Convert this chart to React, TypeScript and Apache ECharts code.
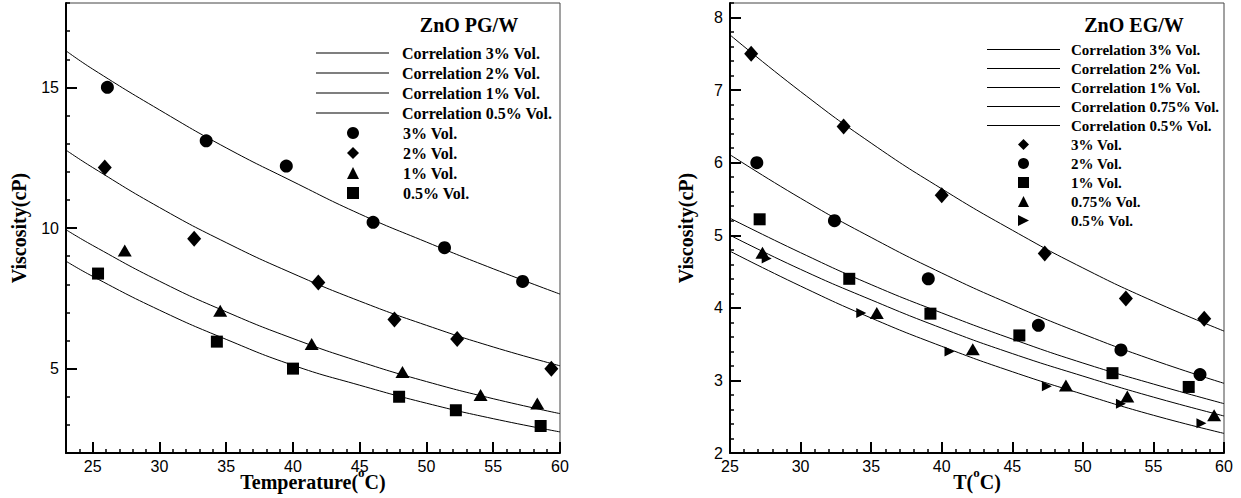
import React, { useEffect, useRef } from 'react';
import * as echarts from 'echarts';

// ---------- Left chart: ZnO PG/W ----------
const pgCurveT = [23, 25, 30, 35, 40, 45, 50, 55, 60];
const pgCorr3 = [16.3, 15.65, 14.2, 12.85, 11.65, 10.5, 9.5, 8.55, 7.65];
const pgCorr2 = [12.77, 12.15, 10.73, 9.48, 8.38, 7.4, 6.54, 5.77, 5.1];
const pgCorr1 = [9.94, 9.38, 8.11, 7.02, 6.07, 5.25, 4.54, 3.93, 3.4];
const pgCorr05 = [8.82, 8.28, 7.08, 6.04, 5.12, 4.41, 3.77, 3.22, 2.75];

const pg3T = [26.1, 33.5, 39.5, 46.0, 51.35, 57.2];
const pg3V = [15.0, 13.1, 12.2, 10.2, 9.3, 8.1];
const pg2T = [25.9, 32.6, 41.9, 47.6, 52.3, 59.35];
const pg2V = [12.15, 9.62, 8.06, 6.75, 6.05, 5.0];
const pg1T = [27.4, 34.55, 41.4, 48.2, 54.05, 58.3];
const pg1V = [9.2, 7.06, 5.88, 4.88, 4.06, 3.76];
const pg05T = [25.4, 34.3, 40.0, 47.95, 52.2, 58.55];
const pg05V = [8.38, 5.96, 5.0, 4.0, 3.52, 2.96];

// ---------- Right chart: ZnO EG/W ----------
const egCurveT = [25, 30, 35, 40, 45, 50, 55, 60];
const egCorr3 = [7.76, 6.98, 6.27, 5.64, 5.07, 4.55, 4.09, 3.68];
const egCorr2 = [6.11, 5.51, 4.97, 4.48, 4.04, 3.64, 3.28, 2.96];
const egCorr1 = [5.235, 4.76, 4.32, 3.93, 3.57, 3.24, 2.95, 2.68];
const egCorr075 = [5.0, 4.53, 4.11, 3.72, 3.37, 3.06, 2.77, 2.51];
const egCorr05 = [4.78, 4.3, 3.86, 3.47, 3.12, 2.81, 2.52, 2.27];

const eg3T = [26.5, 33.05, 40.0, 47.3, 53.05, 58.6];
const eg3V = [7.5, 6.5, 5.55, 4.75, 4.13, 3.85];
const eg2T = [26.9, 32.4, 39.05, 46.85, 52.7, 58.3];
const eg2V = [6.0, 5.2, 4.4, 3.76, 3.42, 3.08];
const eg1T = [27.1, 33.45, 39.2, 45.5, 52.1, 57.5];
const eg1V = [5.22, 4.4, 3.92, 3.62, 3.1, 2.91];
const eg075T = [27.3, 35.4, 42.2, 48.8, 53.15, 59.3];
const eg075V = [4.76, 3.93, 3.43, 2.93, 2.78, 2.52];
const eg05T = [27.6, 34.3, 40.55, 47.45, 52.7, 58.4];
const eg05V = [4.68, 3.93, 3.4, 2.92, 2.68, 2.41];

// ---------- Ticks ----------
const xTickLabels = [25, 30, 35, 40, 45, 50, 55, 60];
const pgYTickLabels = [5, 10, 15];
const egYTickLabels = [2, 3, 4, 5, 6, 7, 8];

const SERIF = 'Liberation Serif';
const SANS = 'Liberation Sans';
const BLACK = '#000';

const pairs = (xs: number[], ys: number[]) => xs.map((x, i) => [x, ys[i]]);

const nameRich = {
  t: { fontFamily: SERIF, fontWeight: 'bold', fontSize: 20, lineHeight: 32, color: BLACK },
  s: { fontFamily: SERIF, fontWeight: 'bold', fontSize: 13, lineHeight: 13, verticalAlign: 'top', color: BLACK },
};

function primaryX(gridIndex: number, min: number, max: number, name: string) {
  return {
    type: 'value', gridIndex, min, max, interval: 1, position: 'bottom',
    axisLine: { show: true, onZero: false, lineStyle: { color: BLACK, width: 2 } },
    axisTick: { show: true, inside: true, length: 11, customValues: xTickLabels, lineStyle: { color: BLACK, width: 2 } },
    axisLabel: { show: true, customValues: xTickLabels, margin: 6, color: BLACK, fontFamily: SANS, fontSize: 16, lineHeight: 14 },
    splitLine: { show: false },
    name, nameLocation: 'middle', nameGap: 13, nameMoveOverlap: false,
    nameTextStyle: { rich: nameRich },
  };
}

function minorX(gridIndex: number, min: number, max: number) {
  return {
    type: 'value', gridIndex, min, max, interval: 1, position: 'bottom',
    axisLine: { show: false, onZero: false },
    axisTick: { show: true, inside: true, length: 4, lineStyle: { color: BLACK, width: 1.5 } },
    axisLabel: { show: false },
    splitLine: { show: false },
  };
}

function primaryY(gridIndex: number, min: number, max: number, ticks: number[], nameGap: number) {
  return {
    type: 'value', gridIndex, min, max, interval: 1, position: 'left',
    axisLine: { show: true, onZero: false, lineStyle: { color: BLACK, width: 2 } },
    axisTick: { show: true, inside: true, length: 11, customValues: ticks, lineStyle: { color: BLACK, width: 2 } },
    axisLabel: { show: true, customValues: ticks, margin: 7, color: BLACK, fontFamily: SANS, fontSize: 16 },
    splitLine: { show: false },
    name: 'Viscosity(cP)', nameLocation: 'middle', nameGap, nameMoveOverlap: false,
    nameTextStyle: { fontFamily: SERIF, fontWeight: 'bold', fontSize: 20, color: BLACK },
  };
}

function minorY(gridIndex: number, min: number, max: number, interval: number) {
  return {
    type: 'value', gridIndex, min, max, interval, position: 'left',
    axisLine: { show: false, onZero: false },
    axisTick: { show: true, inside: true, length: 4, lineStyle: { color: BLACK, width: 1.5 } },
    axisLabel: { show: false },
    splitLine: { show: false },
  };
}

function corr(name: string, xs: number[], ys: number[], idx: number) {
  return {
    type: 'line', name, xAxisIndex: idx, yAxisIndex: idx,
    data: pairs(xs, ys), smooth: true, symbol: 'none', showSymbol: false,
    lineStyle: { color: BLACK, width: 1 }, itemStyle: { color: BLACK },
    z: 2, silent: true,
  };
}

function pts(name: string, xs: number[], ys: number[], idx: number, symbol: string, size: any) {
  return {
    type: 'scatter', name, xAxisIndex: idx, yAxisIndex: idx,
    data: pairs(xs, ys), symbol, symbolSize: size,
    itemStyle: { color: BLACK, opacity: 1 }, z: 3, silent: true,
  };
}

const RIGHT_TRI = 'path://M0,0L10,5L0,10Z';

function legendText(fontSize: number, padLeft: number) {
  return { fontFamily: SERIF, fontWeight: 'bold', fontSize, lineHeight: fontSize, color: BLACK, padding: [0, 0, 0, padLeft] };
}

export default function App() {
  const ref = useRef<HTMLDivElement>(null);
  useEffect(() => {
    if (!ref.current) return;
    const chart = echarts.init(ref.current, undefined, { renderer: 'svg' });
    const sp = ' '; // distinguishes right-chart series names
    const pgLines = ['Correlation 3% Vol.', 'Correlation 2% Vol.', 'Correlation 1% Vol.', 'Correlation 0.5% Vol.'];
    const pgPts = ['3% Vol.', '2% Vol.', '1% Vol.', '0.5% Vol.'];
    const egLines = ['Correlation 3% Vol.', 'Correlation 2% Vol.', 'Correlation 1% Vol.', 'Correlation 0.75% Vol.', 'Correlation 0.5% Vol.'].map((n) => n + sp);
    const egPts = ['3% Vol.', '2% Vol.', '1% Vol.', '0.75% Vol.', '0.5% Vol.'].map((n) => n + sp);

    const option: any = {
      animation: false,
      backgroundColor: '#fff',
      grid: [
        { left: 66, top: 3, width: 494, height: 450, show: true, borderColor: '#444', borderWidth: 1, backgroundColor: 'transparent', containLabel: false, outerBoundsMode: 'none' },
        { left: 730, top: 3, width: 494, height: 450, show: true, borderColor: '#444', borderWidth: 1, backgroundColor: 'transparent', containLabel: false, outerBoundsMode: 'none' },
      ],
      xAxis: [
        primaryX(0, 23, 60, '{t|Temperature(}{s|o}{t|C)}'),
        primaryX(1, 25, 60, '{t|T(}{s|o}{t|C)}'),
        minorX(0, 23, 60),
        minorX(1, 25, 60),
      ],
      yAxis: [
        primaryY(0, 2, 18, pgYTickLabels, 37),
        primaryY(1, 2, 8.2, egYTickLabels, 34),
        minorY(0, 2, 18, 1),
        minorY(1, 2, 8.2, 0.2),
      ],
      legend: [
        {
          orient: 'vertical', left: 316, top: 45, padding: 0, icon: 'rect',
          itemWidth: 73, itemHeight: 1, itemGap: 4, selectedMode: false,
          textStyle: legendText(16, 8), data: pgLines,
        },
        {
          orient: 'vertical', left: 347, top: 125, padding: 0,
          itemWidth: 12, itemHeight: 12, itemGap: 4, selectedMode: false,
          textStyle: legendText(16, 39), data: pgPts,
        },
        {
          orient: 'vertical', left: 987, top: 42, padding: 0, icon: 'rect',
          itemWidth: 73, itemHeight: 1, itemGap: 4, selectedMode: false,
          textStyle: legendText(15, 6), data: egLines,
        },
        {
          orient: 'vertical', left: 1018, top: 137, padding: 0,
          itemWidth: 11, itemHeight: 11, itemGap: 4, selectedMode: false,
          textStyle: legendText(15, 37), data: egPts,
        },
      ],
      graphic: [
        {
          type: 'text', x: 469, y: 25, silent: true,
          style: { text: 'ZnO PG/W', fill: BLACK, font: 'bold 20px "Liberation Serif"', align: 'center', verticalAlign: 'middle', textAlign: 'center', textVerticalAlign: 'middle' },
        },
        {
          type: 'text', x: 1134, y: 25, silent: true,
          style: { text: 'ZnO EG/W', fill: BLACK, font: 'bold 20px "Liberation Serif"', align: 'center', verticalAlign: 'middle', textAlign: 'center', textVerticalAlign: 'middle' },
        },
      ],
      series: [
        corr(pgLines[0], pgCurveT, pgCorr3, 0),
        corr(pgLines[1], pgCurveT, pgCorr2, 0),
        corr(pgLines[2], pgCurveT, pgCorr1, 0),
        corr(pgLines[3], pgCurveT, pgCorr05, 0),
        pts(pgPts[0], pg3T, pg3V, 0, 'circle', 13),
        pts(pgPts[1], pg2T, pg2V, 0, 'diamond', [14, 16]),
        pts(pgPts[2], pg1T, pg1V, 0, 'triangle', [14, 12]),
        pts(pgPts[3], pg05T, pg05V, 0, 'rect', 12),

        corr(egLines[0], egCurveT, egCorr3, 1),
        corr(egLines[1], egCurveT, egCorr2, 1),
        corr(egLines[2], egCurveT, egCorr1, 1),
        corr(egLines[3], egCurveT, egCorr075, 1),
        corr(egLines[4], egCurveT, egCorr05, 1),
        pts(egPts[0], eg3T, eg3V, 1, 'diamond', [14, 16]),
        pts(egPts[1], eg2T, eg2V, 1, 'circle', 13),
        pts(egPts[2], eg1T, eg1V, 1, 'rect', 12),
        pts(egPts[3], eg075T, eg075V, 1, 'triangle', [14, 12]),
        pts(egPts[4], eg05T, eg05V, 1, RIGHT_TRI, [10, 10]),
      ],
    };
    chart.setOption(option);
    return () => chart.dispose();
  }, []);

  return (
    <div
      ref={ref}
      style={{ position: 'fixed', left: 0, top: 0, width: 1241, height: 498, background: '#fff' }}
    />
  );
}
